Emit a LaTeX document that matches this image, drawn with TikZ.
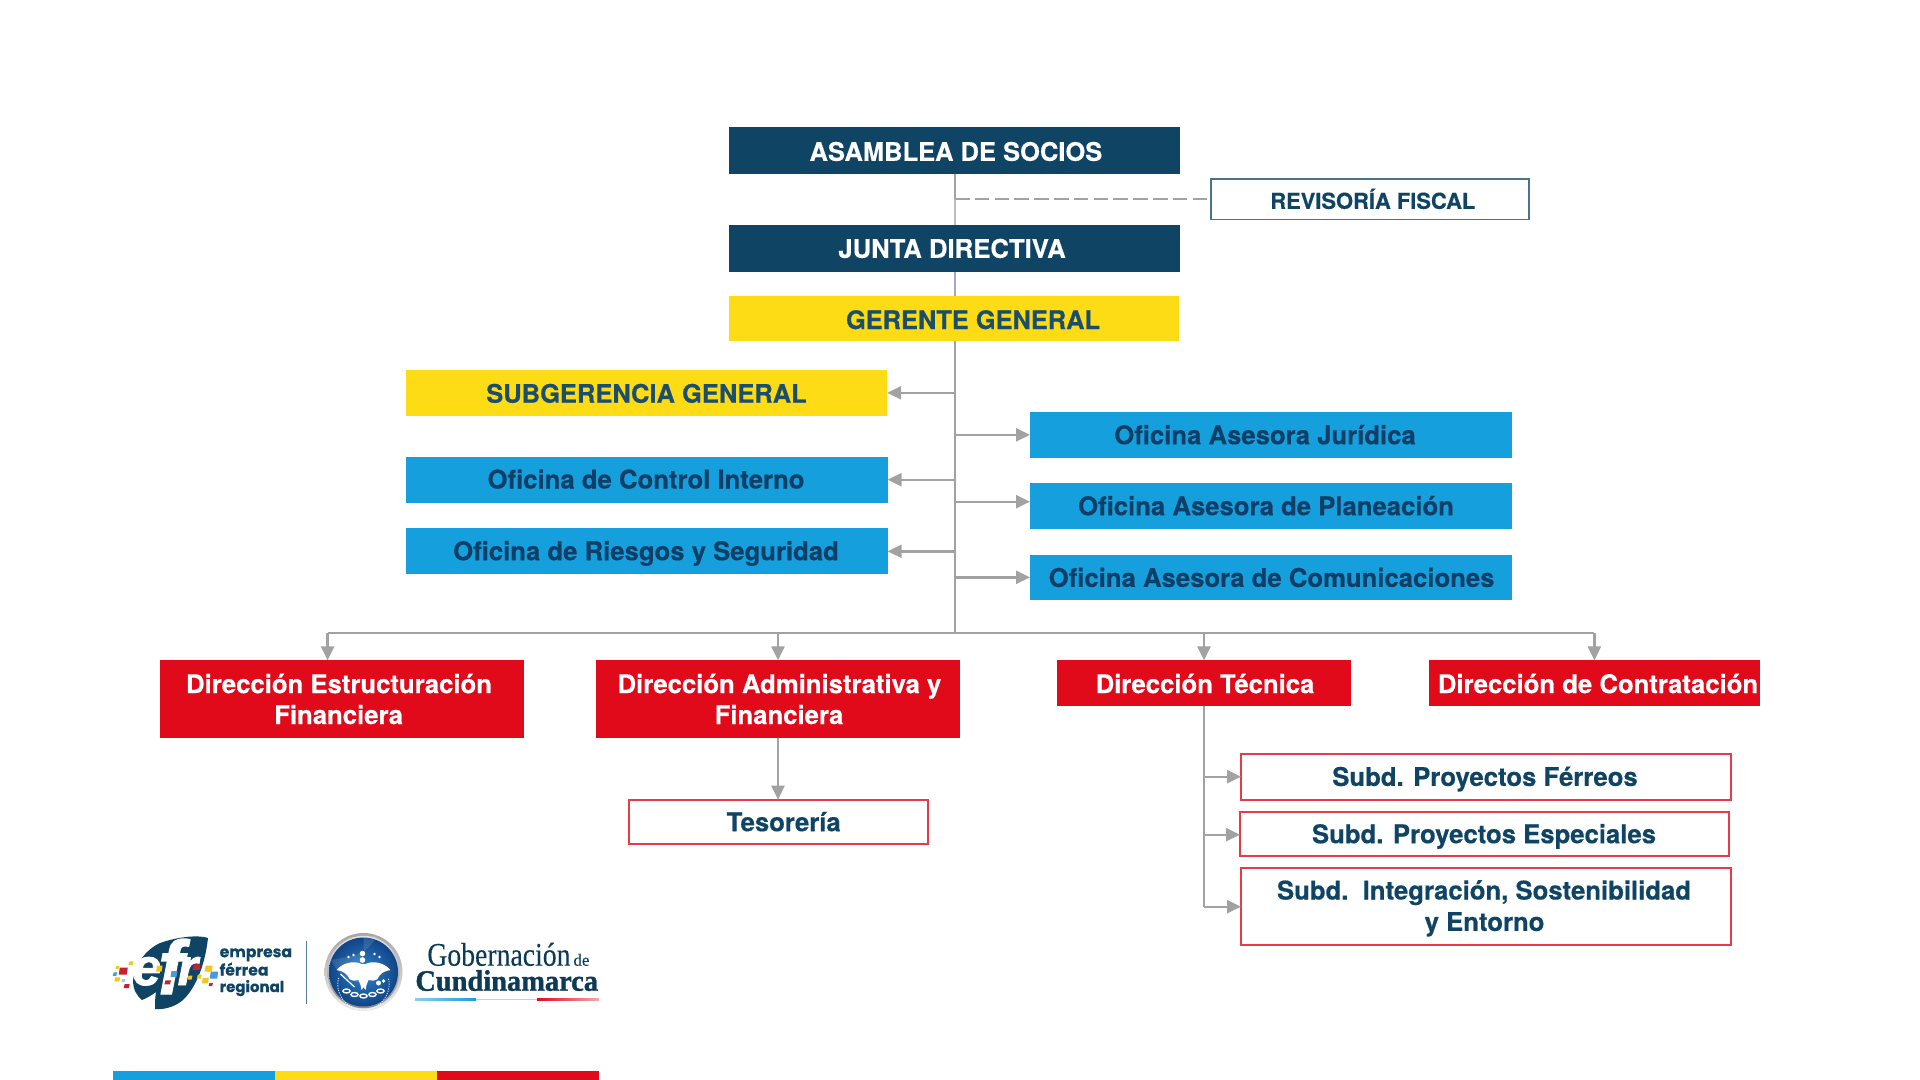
\documentclass[tikz,border=0pt]{standalone}
\usepackage{fontspec}
\setmainfont[BoldFeatures={FakeBold=0.45}]{TeX Gyre Heros}
\newfontfamily\serifx[FakeBold=0.15]{Liberation Serif}
\newfontfamily\serifbx[FakeBold=1.2]{Liberation Serif Bold}
\newfontfamily\poppx[BoldFeatures={FakeBold=0.2}]{Poppins}
\newfontfamily\efrfont[FakeBold=1.6]{Liberation Sans Bold Italic}
\usetikzlibrary{arrows.meta,calc}
\definecolor{navy}{HTML}{0F4465}
\definecolor{txtblue}{HTML}{0F3F66}
\definecolor{goldbox}{HTML}{FDDB15}
\definecolor{skybox}{HTML}{159FDC}
\definecolor{redbox}{HTML}{E00A1A}
\definecolor{conngray}{HTML}{A2A2A2}
\tikzset{
  navybox/.style={fill=navy,draw=none},
  goldfill/.style={fill=goldbox,draw=none},
  skyfill/.style={fill=skybox,draw=none},
  redfill/.style={fill=redbox,draw=none},
  revbox/.style={fill=white,draw=navy!75,line width=0.75pt},
  subdbox/.style={fill=white,draw=redbox!80,line width=1pt},
  lab/.style={anchor=base,inner sep=0pt,font=\bfseries\fontsize{12.85}{14}\selectfont},
  conn/.style={draw=conngray,line width=1.2pt},
  arr/.style={conn,-{Triangle[length=7pt,width=6.5pt,fill=conngray,color=conngray]}},
}
\newcommand\boxn[6]{%
  \pgfmathsetmacro\bw{(#4-#2)*0.5}\pgfmathsetmacro\bh{(#5-#3)*0.5}%
  \node[#6,inner sep=0pt,outer sep=0pt,minimum width=\bw pt,minimum height=\bh pt] (#1) at ({(#2+#4)/2},{(#3+#5)/2}) {};}
\newcommand\textn[5]{\node[lab,#4] (#1) at (#2,{#3+0.2}) {#5};}
\newcommand\logosq[5]{\fill[#5] ({#1-#3/2+0.5},{#2-#4/2}) -- ({#1+#3/2+0.5},{#2-#4/2}) -- ({#1+#3/2-0.5},{#2+#4/2}) -- ({#1-#3/2-0.5},{#2+#4/2}) -- cycle;}
\begin{document}
\begin{tikzpicture}[x=0.5pt,y=-0.5pt]
\useasboundingbox (0,0) rectangle (1920,1080);
\fill[white] (0,0) rectangle (1920,1080);
% boxes
\boxn{asam}{728.6}{127.3}{1180}{174.5}{navybox}
\boxn{rev}{1211.2}{179}{1529}{219.7}{revbox}
\boxn{junta}{728.6}{224.7}{1180}{271.7}{navybox}
\boxn{ger}{728.6}{296.3}{1178.7}{341}{goldfill}
\boxn{sub}{405.6}{370}{887.2}{415.7}{goldfill}
\boxn{ctrl}{405.9}{456.7}{887.6}{502.7}{skyfill}
\boxn{ries}{405.9}{528.3}{887.6}{574.3}{skyfill}
\boxn{jur}{1030}{412}{1511.5}{457.7}{skyfill}
\boxn{pla}{1030}{483.3}{1511.5}{528.7}{skyfill}
\boxn{com}{1030}{555}{1511.5}{599.7}{skyfill}
\boxn{dest}{159.7}{660.4}{524.4}{737.7}{redfill}
\boxn{dadm}{595.8}{660.4}{960}{737.7}{redfill}
\boxn{dtec}{1057.1}{660.4}{1351}{706.3}{redfill}
\boxn{dcon}{1429}{660.4}{1760}{706.3}{redfill}
\boxn{tes}{629.4}{800.2}{928}{844.2}{subdbox}
\boxn{sf}{1241}{754.2}{1731}{799.5}{subdbox}
\boxn{se}{1240}{812.2}{1729}{856.2}{subdbox}
\boxn{si}{1241}{868.2}{1731}{944.5}{subdbox}
% texts
\textn{tasam}{955.9}{160.6}{white,font=\bfseries\fontsize{12.75}{14}\selectfont}{ASAMBLEA DE SOCIOS}
\textn{trev}{1372.8}{208.6}{navy,font=\bfseries\fontsize{10.95}{12}\selectfont}{REVISORÍA FISCAL}
\textn{tjun}{952}{257.6}{white,font=\bfseries\fontsize{12.85}{14}\selectfont}{JUNTA DIRECTIVA}
\textn{tger}{973}{328.8}{navy!95!white,font=\bfseries\fontsize{12.7}{14}\selectfont}{GERENTE GENERAL}
\textn{tsub}{646.5}{402.5}{navy!95!white,font=\bfseries\fontsize{12.75}{14}\selectfont}{SUBGERENCIA GENERAL}
\textn{tctrl}{646}{488.3}{txtblue}{Oficina de Control Interno}
\textn{tries}{646}{560}{txtblue}{Oficina de Riesgos y Seguridad}
\textn{tjur}{1265}{444}{txtblue}{Oficina Asesora Jurídica}
\textn{tpla}{1266}{515}{txtblue}{Oficina Asesora de Planeación}
\textn{tcom}{1271.6}{586.7}{txtblue}{Oficina Asesora de Comunicaciones}
\textn{tde1}{339}{692.9}{white}{Dirección Estructuración}
\textn{tde2}{338.6}{723.8}{white}{Financiera}
\textn{tda1}{779.4}{692.9}{white}{Dirección Administrativa y}
\textn{tda2}{779}{723.8}{white}{Financiera}
\textn{ttec}{1205}{692.9}{white}{Dirección Técnica}
\textn{tcon}{1598}{692.9}{white}{Dirección de Contratación}
\textn{ttes}{783.7}{831}{navy}{Tesorería}
\textn{tsf}{1485}{785.7}{navy}{Subd. Proyectos Férreos}
\textn{tse}{1484}{843}{navy}{Subd. Proyectos Especiales}
\textn{tsi1}{1484}{899.3}{navy}{Subd.\ \ Integración, Sostenibilidad}
\textn{tsi2}{1484.5}{930.7}{navy}{y Entorno}
% connector coordinates
\coordinate (spine) at (955,200);
\coordinate (dashj) at (955,199);
\coordinate (bus) at (955,632.7);
\coordinate (busl) at (327.6,632.7);
\coordinate (busr) at (1594.4,632.7);
\coordinate (ina) at (327.6,660.4);
\coordinate (inb) at (778,660.4);
\coordinate (inc) at (1204,660.4);
\coordinate (ind) at (1594.4,660.4);
\coordinate (inpla) at (1030,501.7);
\coordinate (intop) at (778,737.7);
\coordinate (intes) at (778,799.7);
\coordinate (tecb) at (1204,706.3);
\coordinate (tecf) at (1204,906.7);
\coordinate (insf) at (1241,776.7);
\coordinate (inse) at (1240,834.7);
\coordinate (insi) at (1241,906.7);
% connectors
\draw[draw=black!25,line width=0.8pt] (spine |- asam.south) -- (spine |- junta.north);
\draw[conn,line width=1pt] (spine |- asam.south) -- (dashj);
\draw[conn,line width=1.4pt,dash pattern=on 7.3pt off 2.6pt] (dashj) -- (dashj -| rev.west);
\draw[draw=blue!30!black!35,line width=0.7pt] (spine |- junta.south) -- (spine |- ger.north);
\draw[conn] (spine |- ger.south) -- (bus);
\draw[conn] (busl) -- (busr);
\draw[arr] (spine |- sub.east) -- (sub.east);
\draw[arr] (spine |- ctrl.east) -- (ctrl.east);
\draw[arr] (spine |- ries.east) -- (ries.east);
\draw[arr] (spine |- jur.west) -- (jur.west);
\draw[arr] (spine |- inpla) -- (inpla);
\draw[arr] (spine |- com.west) -- (com.west);
\draw[arr] (busl) -- (ina);
\draw[arr] (inb |- bus) -- (inb);
\draw[arr] (inc |- bus) -- (inc);
\draw[arr] (busr) -- (ind);
\draw[arr] (intop) -- (intes);
\draw[conn] (tecb) -- (tecf);
\draw[arr] (tecb |- insf) -- (insf);
\draw[arr] (tecb |- inse) -- (inse);
\draw[arr] (tecf) -- (insi);
% bottom strip
\fill[skybox] (112.9,1071) rectangle (274.6,1080);
\fill[goldbox] (274.6,1071) rectangle (436.8,1080);
\fill[redbox] (436.8,1071) rectangle (598.9,1080);
% efr logo
\fill[navy] (208,938) .. controls (200,935) and (180,936) .. (160,943)
  .. controls (145,950) and (135,965) .. (133,980)
  .. controls (133,990) and (137,996) .. (142,1000)
  .. controls (147,998) and (152,995) .. (156,992)
  .. controls (155,998) and (155,1004) .. (155,1009)
  .. controls (165,1010) and (177,1006) .. (184,999)
  .. controls (196,987) and (205,965) .. (208,938) -- cycle;
\node[white,inner sep=0pt,anchor=base west,font=\efrfont\fontsize{26}{26}\selectfont] (efr) at (132,985)
  {e\kern-1.5pt\raisebox{-4.5pt}{\fontsize{38}{38}\selectfont f}\kern-3pt r};
\definecolor{lred}{HTML}{C8202E}\definecolor{lyel}{HTML}{F5C518}\definecolor{lblu}{HTML}{4A9AD4}\definecolor{lblt}{HTML}{9CC8EA}
\logosq{123.3}{971}{8}{7}{lred}
\logosq{117.3}{967.7}{3}{3}{lyel}
\logosq{115}{974}{3.5}{3.5}{lblu}
\logosq{117.3}{979.3}{5}{4}{lyel}
\logosq{123.3}{980.7}{3}{3}{lblt}
\logosq{126.7}{986}{5}{4}{lred}
\logosq{131}{963}{4}{3.5}{lyel}
\logosq{159.3}{968.7}{5.5}{6}{lyel}
\logosq{174}{974}{6}{6}{lblu}
\logosq{167.7}{982.3}{5.5}{4}{lred}
\logosq{196.7}{967}{7}{5.5}{lred}
\logosq{190}{977.7}{4}{4}{lyel}
\logosq{199.3}{976.7}{4}{4}{lyel}
\logosq{208.7}{968.7}{7}{6}{lyel}
\logosq{214}{975}{7.5}{7}{lblu}
\logosq{205.3}{980.7}{6}{5.5}{lyel}
\logosq{210.7}{984.7}{3.5}{3}{lred}
\node[navy,inner sep=0pt,anchor=base west,font=\poppx\bfseries\fontsize{7.8}{8}\selectfont] (lg1) at (219.3,957.2) {empresa};
\node[navy,inner sep=0pt,anchor=base west,font=\poppx\bfseries\fontsize{7.8}{8}\selectfont] (lg2) at (219.3,975.5) {férrea};
\node[navy,inner sep=0pt,anchor=base west,font=\poppx\bfseries\fontsize{7.5}{8}\selectfont] (lg3) at (219.3,992) {regional};
\draw[navy!70,line width=0.5pt] (306.4,941.3) -- (306.4,1003.7);
% seal
\definecolor{sealin}{HTML}{2F86CC}\definecolor{sealout}{HTML}{114488}
\begin{scope}[shift={(363.5,972)}]
\shade[top color=black!35,bottom color=black!8] (0,0) circle (39);
\shade[top color=black!12,bottom color=black!45] (0,0) circle (36.2);
\shade[inner color=sealin,outer color=sealout] (0,0) circle (34.5);
\fill[white,opacity=0.12] (0,-34.5) arc (90:-25:34.5) .. controls (12,-8) and (-8,-18) .. (-32,-12) arc (160:90:34.5) -- cycle;
\draw[white,line width=0.45pt,dash pattern=on 0.6pt off 0.6pt,opacity=0.85] (-25,6) arc (194:-14:25.7);
% eagle
\fill[white] (-2,-8) .. controls (-10,-12) and (-21,-9) .. (-27,-2)
 .. controls (-20,-1) and (-16,2) .. (-14,7) .. controls (-11,9) and (-8,9) .. (-5,8) -- (-3,13) -- (-2,18) -- (0,15) -- (2,18) -- (3,13) -- (5,8)
 .. controls (8,9) and (11,9) .. (14,7) .. controls (16,2) and (20,-1) .. (27,-2)
 .. controls (21,-9) and (10,-12) .. (2,-8) -- cycle;
\fill[white] (-1,-12) circle (2.8) (-1,-18.5) circle (2.8);
\fill[white] (-15,-15) circle (1.3) (-10,-17) circle (1.3) (11,-18) circle (1.3) (16,-15) circle (1.3);
\draw[white,line width=0.6pt] (-23,2) -- (-9,15);
\fill[white] (15,11) circle (2.5) (20,9) circle (1.8);
\foreach \cx/\cy in {-17/19,-9/22.5,0/24,9/22.5,17/19}
  \draw[white,line width=0.7pt] (\cx,\cy) ellipse [x radius=3.6,y radius=2];
\end{scope}
% gobernacion
\node[navy!85!black,inner sep=0pt,anchor=base west,xscale=0.84,font=\serifx\fontsize{16.5}{16}\selectfont] (gob) at (427,965.7) {Gobernación};
\node[navy!85!black,inner sep=0pt,anchor=base west,font=\serifx\fontsize{8.5}{8}\selectfont] (gde) at (573,965.7) {de};
\node[navy!85!black,inner sep=0pt,anchor=base west,xscale=0.96,font=\serifbx\fontsize{14.8}{15}\selectfont] (cun) at (415,990.7) {Cundinamarca};
\fill[left color=skybox!50,right color=skybox] (415,998.8) rectangle (476,1000);
\fill[goldbox] (476,998.8) rectangle (537,1000);
\fill[left color=redbox,right color=redbox!35] (537,998.8) rectangle (599,1000);
\end{tikzpicture}
\end{document}
